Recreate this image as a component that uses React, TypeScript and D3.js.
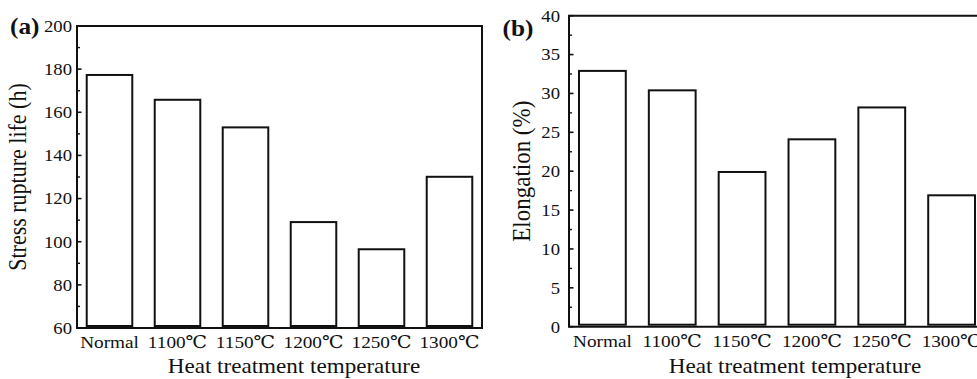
import React from "react";
import * as d3 from "d3";

const categories = ["Normal", "1100℃", "1150℃", "1200℃", "1250℃", "1300℃"];
const ruptureLife = [177.3, 165.8, 153.0, 109.1, 96.5, 130.1];
const elongation = [32.9, 30.4, 19.9, 24.1, 28.2, 16.9];
const ruptureTicks = [60, 80, 100, 120, 140, 160, 180, 200];
const elongationTicks = [0, 5, 10, 15, 20, 25, 30, 35, 40];

const FONT = "'Liberation Serif', 'Times New Roman', 'DejaVu Serif', serif";
const SX = 1.1; // the source figure is slightly stretched horizontally

type PanelProps = {
  label: string;
  yTitle: string;
  values: number[];
  ticks: number[];
  left: number;
  right: number;
  top: number;
  bottom: number;
  tickGap: number;
  titleX: number;
  xTitleX: number;
  labelBaseline: number;
  yTitleSize: number;
};

const Txt = ({ x, y, size, anchor = "middle", weight = "normal", rotate = false, children }: any) => (
  <text
    transform={
      rotate
        ? `translate(${x},${y}) rotate(-90) scale(1,${SX})`
        : `translate(${x},${y}) scale(${SX},1)`
    }
    textAnchor={anchor}
    fontSize={size}
    fontWeight={weight}
    fontFamily={FONT}
    fill="#111"
  >
    {children}
  </text>
);

const Panel = (p: PanelProps) => {
  const [lo, hi] = d3.extent(p.ticks) as [number, number];
  const y = d3.scaleLinear().domain([lo, hi]).range([p.bottom, p.top]);
  const x = d3
    .scaleBand<string>()
    .domain(categories)
    .range([p.left, p.right])
    .paddingInner(0.33)
    .paddingOuter(0.143);
  const step = p.ticks[1] - p.ticks[0];
  const minors = p.ticks.slice(0, -1).map((t) => t + step / 2);

  return (
    <g>
      {/* bars */}
      {p.values.map((v, i) => (
        <rect
          key={categories[i]}
          x={x(categories[i])}
          y={y(v)}
          width={x.bandwidth()}
          height={p.bottom - 2 - y(v)}
          fill="#fff"
          stroke="#111"
          strokeWidth={2}
        />
      ))}
      {/* frame */}
      <path
        d={`M${p.left},${p.top}H${p.right}V${p.bottom}H${p.left}Z`}
        fill="none"
        stroke="#111"
        strokeWidth={2}
      />
      {/* ticks */}
      {p.ticks.map((t) => (
        <g key={t}>
          <line x1={p.left} x2={p.left + 4.5} y1={y(t)} y2={y(t)} stroke="#111" strokeWidth={1.6} />
          <Txt x={p.left - p.tickGap} y={y(t) + 5.8} size={17} anchor="end">
            {t}
          </Txt>
        </g>
      ))}
      {minors.map((t) => (
        <line key={t} x1={p.left} x2={p.left + 3} y1={y(t)} y2={y(t)} stroke="#111" strokeWidth={1.4} />
      ))}
      {/* category labels */}
      {categories.map((c) => (
        <Txt key={c} x={(x(c) as number) + x.bandwidth() / 2} y={p.labelBaseline} size={17.5}>
          {c}
        </Txt>
      ))}
      <Txt x={p.xTitleX} y={373} size={21}>
        Heat treatment temperature
      </Txt>
      <Txt x={p.titleX} y={(p.top + p.bottom) / 2} size={p.yTitleSize} rotate>
        {p.yTitle}
      </Txt>
    </g>
  );
};

export default function App() {
  return (
    <svg
      width={977}
      height={379}
      style={{ position: "absolute", left: 0, top: 0, background: "#fff" }}
    >
      <rect width={977} height={379} fill="#fff" />
      <Panel
        label="(a)"
        yTitle="Stress rupture life (h)"
        values={ruptureLife}
        ticks={ruptureTicks}
        left={77}
        right={482}
        top={26}
        bottom={328}
        tickGap={5}
        titleX={26}
        xTitleX={294}
        labelBaseline={348}
        yTitleSize={22}
      />
      <Panel
        label="(b)"
        yTitle="Elongation (%)"
        values={elongation}
        ticks={elongationTicks}
        left={569}
        right={985}
        top={15.7}
        bottom={326.7}
        tickGap={9}
        titleX={530}
        xTitleX={795}
        labelBaseline={346.5}
        yTitleSize={23}
      />
      <Txt x={10} y={34} size={23} anchor="start" weight="bold">
        (a)
      </Txt>
      <Txt x={502.5} y={36} size={23} anchor="start" weight="bold">
        (b)
      </Txt>
    </svg>
  );
}
